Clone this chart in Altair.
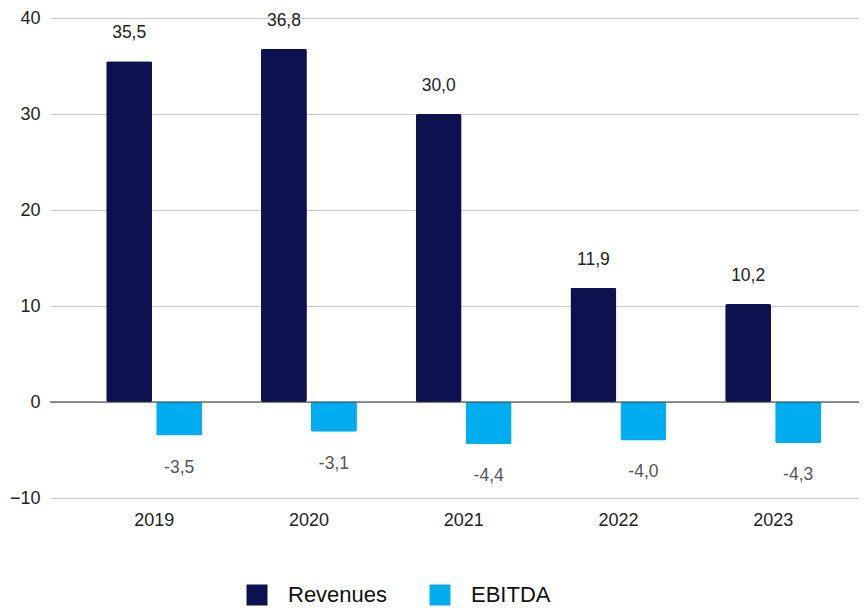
import altair as alt
import pandas as pd

years = ["2019", "2020", "2021", "2022", "2023"]
revenues = [35.5, 36.8, 30.0, 11.9, 10.2]
ebitda = [-3.5, -3.1, -4.4, -4.0, -4.3]
series = ["Revenues", "EBITDA"]
colors = ["#0d1150", "#00adee"]
y_ticks = [-10, 0, 10, 20, 30, 40]

rows = []
for i, yr in enumerate(years):
    rows.append({"year": yr, "series": "Revenues", "value": revenues[i]})
    rows.append({"year": yr, "series": "EBITDA", "value": ebitda[i]})
df = pd.DataFrame(rows)
df["label"] = df["value"].map(lambda v: f"{v:.1f}".replace(".", ","))

FONT = "Liberation Sans"

x_enc = alt.X(
    "year:N",
    sort=years,
    scale=alt.Scale(paddingInner=0, paddingOuter=0.114, align=0.76),
    axis=alt.Axis(labelAngle=0, title=None, domain=False, ticks=False,
                  labelPadding=13, labelFontSize=18, labelColor="#222222",
                  labelFont=FONT, grid=False),
)
xo_enc = alt.XOffset("series:N", sort=series,
                     scale=alt.Scale(domain=series, paddingInner=0.08, paddingOuter=0.5875))
y_enc = alt.Y(
    "value:Q",
    scale=alt.Scale(domain=[-10, 40], nice=False),
    axis=alt.Axis(values=y_ticks, title=None, domain=False, ticks=False,
                  labelPadding=10, labelFontSize=18, labelColor="#222222",
                  labelFont=FONT, gridColor="#cccccc", gridWidth=1),
)

base = alt.Chart(df)

bars = base.mark_bar(cornerRadius=2).encode(
    x=x_enc,
    xOffset=xo_enc,
    y=y_enc,
    color=alt.Color(
        "series:N",
        sort=series,
        scale=alt.Scale(domain=series, range=colors),
        legend=alt.Legend(
            title=None, orient="none", legendX=196, legendY=566,
            direction="horizontal", symbolType="square", symbolSize=441,
            symbolStrokeWidth=0, labelFontSize=22, labelFont=FONT,
            labelColor="#111111", labelOffset=20, columnPadding=41, padding=0,
        ),
    ),
)

pos_labels = base.transform_filter(alt.datum.value >= 0).mark_text(
    dy=-28, baseline="middle", fontSize=17.5, font=FONT, color="#222222"
).encode(x=x_enc, xOffset=xo_enc, y="value:Q", text="label:N")

neg_labels = base.transform_filter(alt.datum.value < 0).mark_text(
    dy=32, baseline="middle", fontSize=17.5, font=FONT, color="#555555"
).encode(x=x_enc, xOffset=xo_enc, y="value:Q", text="label:N")

zero = alt.Chart(pd.DataFrame({"v": [0]})).mark_rule(color="#333333", strokeWidth=1).encode(
    y="v:Q"
)

chart = alt.layer(bars, zero, pos_labels, neg_labels).properties(
    width=809, height=480,
    padding={"left": 42, "top": 10, "right": 0, "bottom": 110},
    autosize=alt.AutoSizeParams(type="none"),
    background="white",
).configure_view(stroke=None)

chart.save("out.html", embed_options={"renderer": "svg", "actions": False})
